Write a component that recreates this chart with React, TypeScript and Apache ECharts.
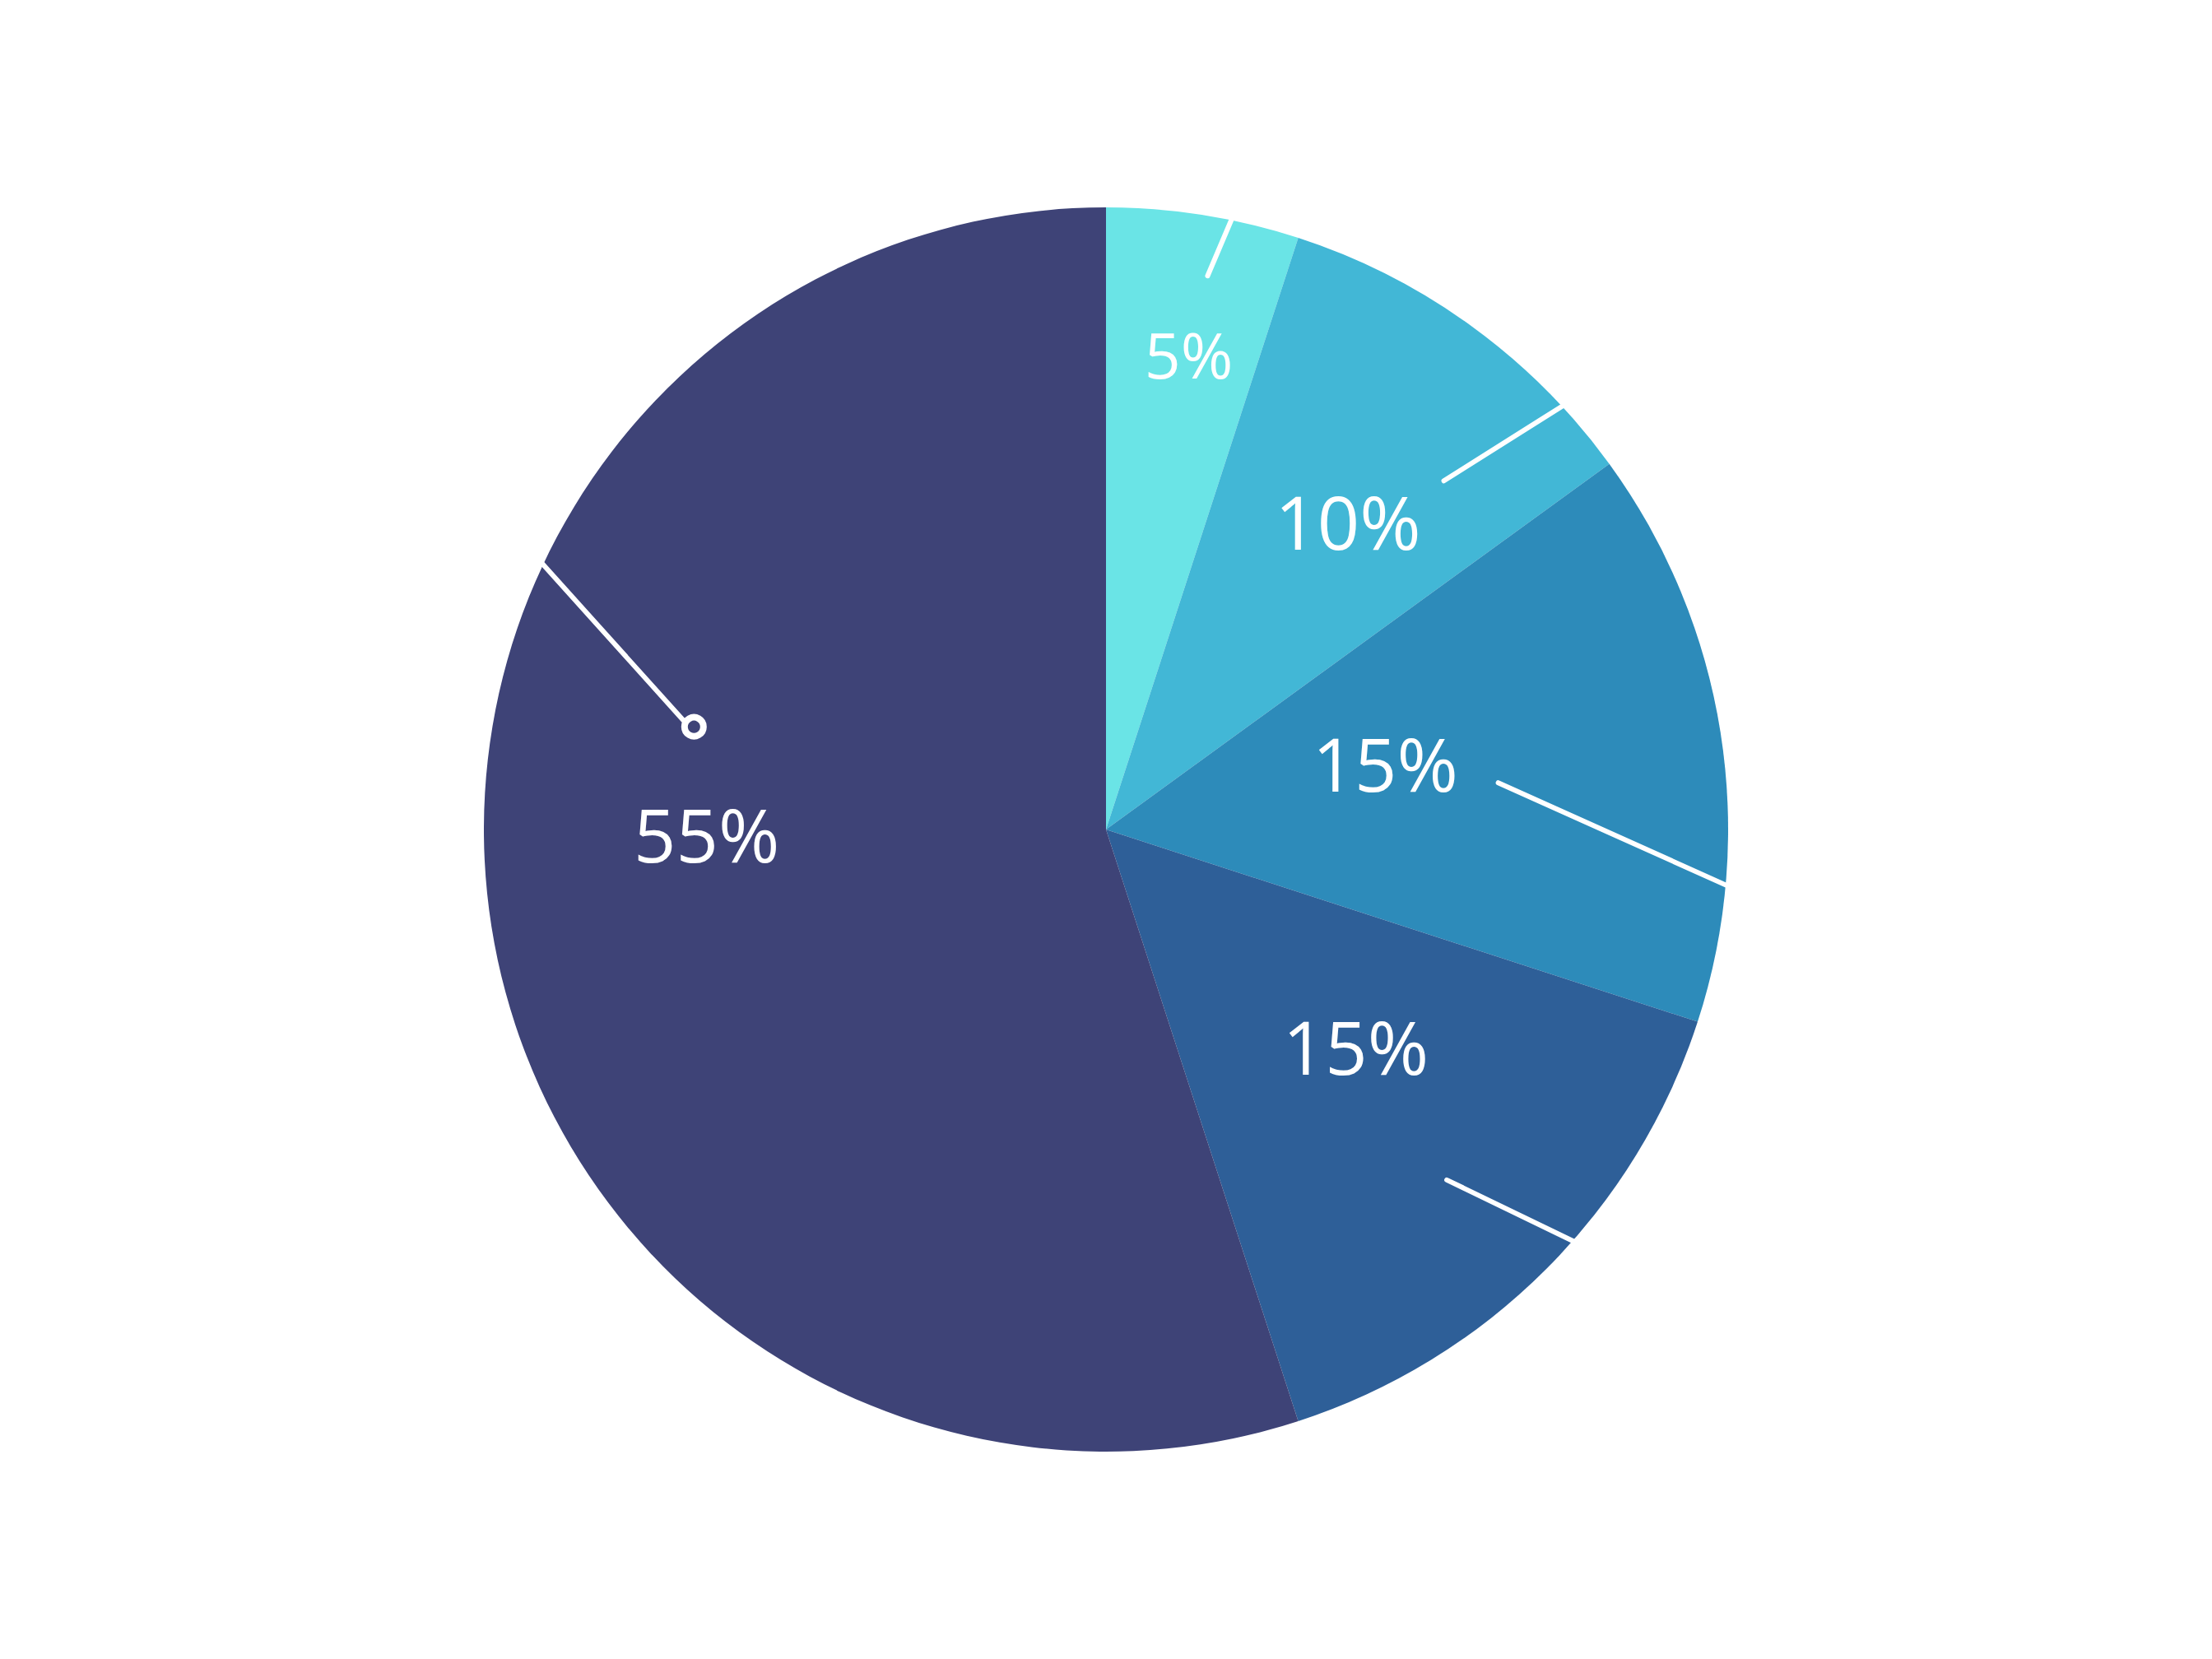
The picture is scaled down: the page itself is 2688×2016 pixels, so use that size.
import React, { useEffect, useRef } from "react";
import * as echarts from "echarts";

const labels = ["5%", "10%", "15%", "15%", "55%"];
const values = [5, 10, 15, 15, 55];
const colors = ["#6ae4e6", "#42b7d6", "#2d8bba", "#2e5f98", "#3e4377"];
const labelSizes = [77, 90, 90, 90, 90];
const labelOffsets: [number, number][] = [
  [41, -201],
  [70, -67],
  [-37, -21],
  [34, -6],
  [-109, -55],
];

// decorative white leader strokes: [innerR, innerDeg, outerR, outerDeg]
const strokes: [number, number, number, number][] = [
  [684, 10.4, 775, 11.9],
  [590, 44.1, 775, 47.4],
  [480, 83.2, 775, 95.6],
  [594, 135.8, 775, 131.0],
  [528, 284.3, 775, 295.8],
];

const W = 2688;
const H = 2016;
const CX = W / 2;
const CY = H / 2;
const R = 756;

function polar(r: number, deg: number): [number, number] {
  const a = (deg * Math.PI) / 180;
  return [CX + r * Math.sin(a), CY - r * Math.cos(a)];
}

export default function App() {
  const ref = useRef<HTMLDivElement>(null);
  useEffect(() => {
    if (!ref.current) return;
    const chart = echarts.init(ref.current, undefined, { renderer: "svg" });
    const graphics: any[] = strokes.map((s) => {
      const [x1, y1] = polar(s[0], s[1]);
      const [x2, y2] = polar(s[2], s[3]);
      return {
        type: "line",
        z: 100,
        shape: { x1, y1, x2, y2 },
        style: { stroke: "#ffffff", lineWidth: 6, lineCap: "round" },
      };
    });
    const [ccx, ccy] = polar(516, 284);
    graphics.push({
      type: "circle",
      z: 101,
      shape: { cx: ccx, cy: ccy, r: 11.5 },
      style: { fill: colors[4], stroke: "#ffffff", lineWidth: 8 },
    });
    chart.setOption({
      animation: false,
      backgroundColor: "#ffffff",
      series: [
        {
          type: "pie",
          center: [CX, CY],
          radius: [0, R],
          startAngle: 90,
          clockwise: true,
          avoidLabelOverlap: false,
          silent: true,
          label: {
            show: true,
            position: "inside",
            color: "#ffffff",
            fontFamily: "Open Sans",
            fontSize: 90,
            formatter: (p: any) => labels[p.dataIndex],
          },
          labelLine: { show: false },
          itemStyle: { borderWidth: 0 },
          data: values.map((v, i) => ({
            value: v,
            name: labels[i],
            itemStyle: { color: colors[i] },
            label: { fontSize: labelSizes[i], offset: labelOffsets[i] },
          })),
        },
      ],
      graphic: graphics,
    });
    return () => chart.dispose();
  }, []);
  return <div ref={ref} style={{ width: W, height: H, position: "absolute", left: 0, top: 0 }} />;
}
